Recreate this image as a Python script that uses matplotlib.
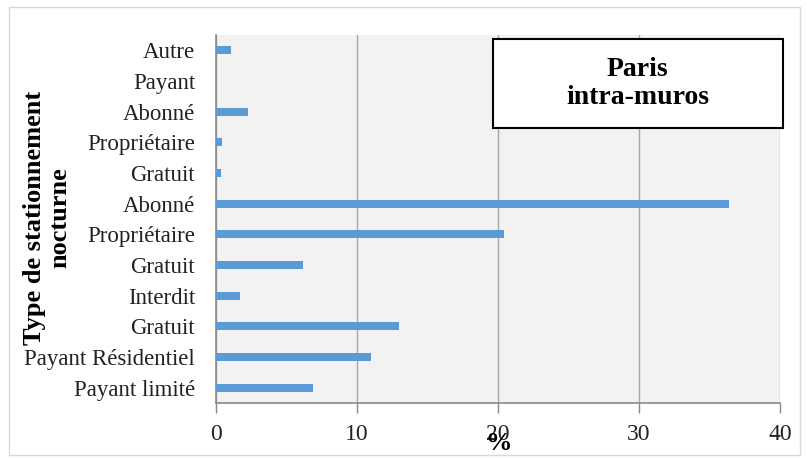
import matplotlib
matplotlib.use("Agg")
import matplotlib.pyplot as plt
from matplotlib.patches import Rectangle

categories = ["Payant limité", "Payant Résidentiel", "Gratuit", "Interdit", "Gratuit",
              "Propriétaire", "Abonné", "Gratuit", "Propriétaire", "Abonné", "Payant", "Autre"]
values = [6.9, 11.0, 13.0, 1.7, 6.2, 20.4, 36.4, 0.35, 0.45, 2.3, 0.0, 1.05]
xticks = [0, 10, 20, 30, 40]

plt.rcParams['font.family'] = ['Liberation Serif', 'DejaVu Serif']

W, H = 807, 461
fig = plt.figure(figsize=(W/100, H/100), dpi=100)
ax = fig.add_axes([216/W, 1-403/H, (780-216)/W, (403-35)/H])
ax.set_facecolor('#f2f2f2')

pos = list(range(len(categories)))
ax.barh(pos, values, height=0.26, color='#5b9bd5', zorder=3)
ax.set_xlim(0, 40)
ax.set_ylim(-0.5, len(categories)-0.5)
ax.set_xticks(xticks)
ax.set_xticklabels([str(t) for t in xticks], fontsize=17, color='#222222')
ax.set_yticks(pos)
ax.set_yticklabels(categories, fontsize=16.5, color='#222222')
ax.grid(axis='x', color='#a6a6a6', linewidth=1, zorder=1)
ax.tick_params(axis='y', length=0, pad=15)
ax.tick_params(axis='x', length=7, color='#898989', width=1, pad=8)
for s in ['top', 'right']:
    ax.spines[s].set_visible(False)
for s in ['left', 'bottom']:
    ax.spines[s].set_color('#898989')
    ax.spines[s].set_linewidth(1.2)

ax.set_xlabel('%', fontsize=19, fontweight='bold', labelpad=-9)
fig.text(47/W, 1-218/H, 'Type de stationnement\nnocturne', rotation=90, ha='center',
         va='center', fontsize=19, fontweight='bold', multialignment='center', linespacing=1.15)

ax.text(0.7475, 0.868, 'Paris\nintra-muros', transform=ax.transAxes, ha='center', va='center',
        fontsize=20, fontweight='bold', zorder=6, linespacing=1.2)
ax.add_patch(Rectangle((0.491, 0.747), 0.514, 0.242, transform=ax.transAxes,
                       facecolor='white', edgecolor='black', linewidth=1.5, zorder=5, clip_on=False))

fig.add_artist(Rectangle((9/W, 1-455/H), (800-9)/W, (455-7)/H, transform=fig.transFigure,
                         facecolor='none', edgecolor='#d9d9d9', linewidth=1))

fig.savefig('out.png', dpi=100)
